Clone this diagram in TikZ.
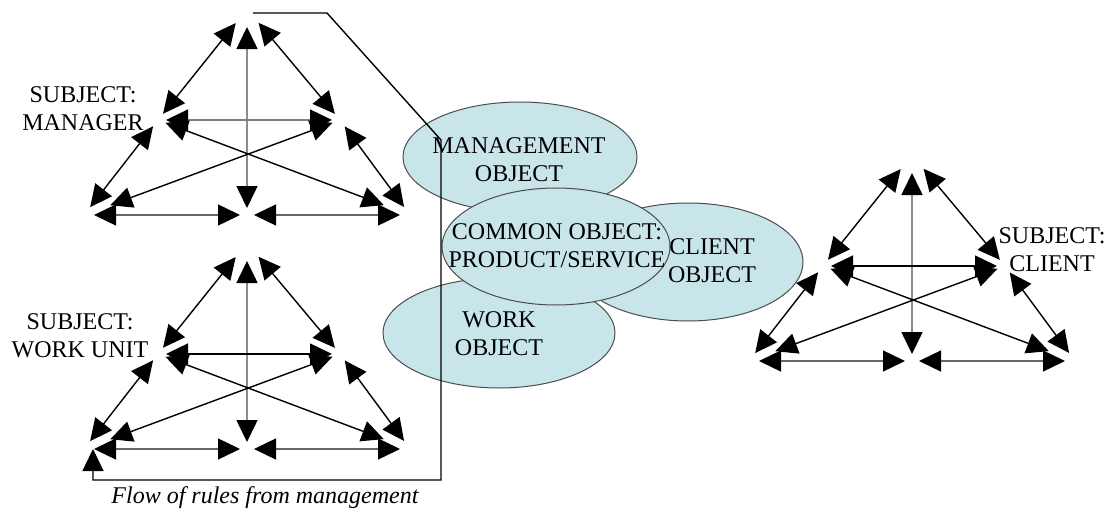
\documentclass[tikz,border=0pt]{standalone}
\usepackage{fontspec}
\setmainfont{Liberation Serif}
\usetikzlibrary{arrows.meta,shapes.geometric}
\definecolor{objfill}{RGB}{200,229,234}
\tikzset{
  vtx/.style={circle,inner sep=0pt,outer sep=0pt,minimum size=#1},
  arr/.style={{Triangle[length=11pt,width=10.5pt,color=black]}-{Triangle[length=11pt,width=10.5pt,color=black]},line width=0.7pt,draw=black},
  greyarr/.style={arr,draw=black!45,line width=0.8pt},
  crossarr/.style={arr,shorten >=9pt},
  obj/.style={ellipse,fill=objfill,draw=black!70,line width=0.5pt,inner sep=0pt},
  lbl/.style={align=center,font=\fontsize{12}{14}\selectfont},
  flow/.style={line width=0.7pt,draw=black},
}
\newcommand\subjtri[4]{%
\begin{scope}[shift={(#2,#3)}]
  \node[vtx=18pt] (#1T)  at (247,9)   {};
  \node[vtx=8pt]  (#1LM) at (158,120) {};
  \node[vtx=8pt]  (#1RM) at (340,120) {};
  \node[vtx=10pt] (#1BL) at (84,215)  {};
  \node[vtx=7pt]  (#1BM) at (247,215) {};
  \node[vtx=10pt] (#1BR) at (410,215) {};
  \draw[arr] (#1T) -- (#1LM);
  \draw[arr] (#1T) -- (#1RM);
  \draw[greyarr] (#1T) -- (#1BM);
  \draw[arr,draw=#4] (#1LM) -- (#1RM);
  \draw[arr] (#1LM) -- (#1BL);
  \draw[arr] (#1RM) -- (#1BR);
  \draw[crossarr] (#1LM) -- (#1BR);
  \draw[crossarr] (#1RM) -- (#1BL);
  \draw[arr,draw=black!60] (#1BL) -- (#1BM);
  \draw[arr,draw=black!60] (#1BM) -- (#1BR);
\end{scope}}
\begin{document}
\begin{tikzpicture}[x=0.5pt,y=-0.5pt]
\useasboundingbox (0,0) rectangle (1110,514);
% object ellipses
\node[obj,minimum width=117pt,minimum height=55pt] (mgmt) at (520,157) {};
\node[obj,minimum width=116pt,minimum height=55pt] (work) at (499,333) {};
\node[obj,minimum width=115pt,minimum height=59pt] (client) at (688,262) {};
\node[obj,minimum width=114pt,minimum height=58.5pt] (common) at (556,246.5) {};
\node[lbl] (mgmtlbl) at (519,159.5) {MANAGEMENT\\OBJECT};
\node[lbl] (worklbl) at (499,333.5) {WORK\\OBJECT};
\node[lbl] (commonlbl) at (557,245.5) {COMMON OBJECT:\\PRODUCT/SERVICE};
\node[lbl] (clientlbl) at (712,260.5) {CLIENT\\OBJECT};
% triangles
\subjtri{m}{0}{0}{black!50}
\subjtri{w}{0}{234}{black}
\subjtri{c}{665}{146}{black}
% subject labels
\node[lbl] (subjm) at (83,108.5) {SUBJECT:\\MANAGER};
\node[lbl] (subjw) at (80,336) {SUBJECT:\\WORK UNIT};
\node[lbl] (subjc) at (1052,250) {SUBJECT:\\CLIENT};
% flow of rules
\coordinate (flowstart) at (253,13);
\coordinate (f2) at (327,13);
\coordinate (f3) at (441,140);
\coordinate (f4) at (441,480);
\coordinate (f5) at (93,480);
\coordinate (flowend) at (93,449);
\draw[flow,-{Triangle[length=11pt,width=10.5pt]}] (flowstart) -- (f2) -- (f3) -- (f4) -- (f5) -- (flowend);
\node[font=\fontsize{12}{14}\selectfont\itshape,anchor=base] (caption) at (265,503) {Flow of rules from management};
\end{tikzpicture}
\end{document}
